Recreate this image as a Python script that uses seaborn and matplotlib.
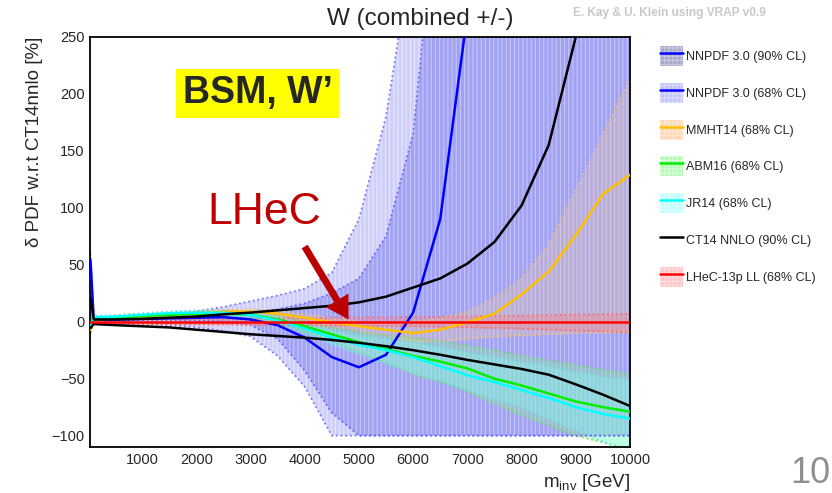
import numpy as np
import pandas as pd
import matplotlib
matplotlib.use("Agg")
import matplotlib.pyplot as plt
from matplotlib.patches import Patch
from matplotlib.lines import Line2D
from matplotlib.ticker import MultipleLocator
import seaborn as sns

# ---------------- data ----------------
m_inv = [50, 110, 500, 1000, 1500, 2000, 2500, 3000, 3500, 4000, 4500, 5000,
         5500, 6000, 6500, 7000, 7500, 8000, 8500, 9000, 9500, 10000]

nnpdf_central = [54, 2, 2, 2.5, 3, 3.5, 4, 2, -3, -14, -31, -40,
                 -29, 8, 90, 270, 500, 700, 900, 1100, 1300, 1500]
nnpdf68_up = [56, 2.5, 3, 3.5, 4, 5, 6, 8, 11, 16, 25, 38,
              75, 165, 400, 800, 1200, 1600, 2000, 2400, 2800, 3200]
nnpdf68_lo = [-5, 1.5, 1.5, 1.5, 1.5, 1, 0, -3, -15, -43, -80, -100,
              -100, -100, -100, -100, -100, -100, -100, -100, -100, -100]
nnpdf90_up = [60, 3, 3.5, 4, 6, 9, 13, 18, 23, 29, 43, 90,
              180, 330, 600, 900, 1300, 1700, 2100, 2500, 2900, 3300]
nnpdf90_lo = [-10, 1, 0, -1, -3, -5, -8, -13, -30, -57, -100, -100,
              -100, -100, -100, -100, -100, -100, -100, -100, -100, -100]

ct14_up = [21, 2, 2, 2.5, 3.5, 4.5, 6.5, 8, 10, 12, 14, 17,
           22, 30, 38, 51, 70, 102, 155, 250, 400, 600]
ct14_lo = [-5.5, -2, -3, -4, -5, -7, -9, -11, -12.5, -14, -16, -18.5,
           -21.5, -25, -29, -33.5, -37.5, -41.5, -46.5, -55, -64, -74]

mmht_central = [-7, 2, 3, 4, 6, 8, 9, 9, 7, 3.5, -0.5, -4,
                -7, -10, -7, -0.5, 7, 24, 44, 76, 112, 129]
mmht_up = [-3, 3, 4, 5, 7, 9, 10.5, 11, 9.5, 6.5, 3, 0,
           -2, 0, 2.5, 9, 21, 38, 68, 115, 165, 212]
mmht_lo = [-10, 1, 2, 3, 5, 7, 7.5, 7, 4, 0, -4, -8,
           -12, -17, -17, -15, -13, -12, -11, -10, -9.5, -9]

abm_central = [-5, 2, 3, 5, 6, 7, 7.5, 6, 2, -4, -11, -18,
               -24, -30, -35, -41, -50, -56, -63, -70, -75, -79]
abm_up = [-3, 3, 4, 6, 7.5, 8.5, 9, 8, 5, 0, -5, -9,
          -12, -14, -17, -21, -25, -30, -34, -38, -42, -46]
abm_lo = [-8, 1, 2, 4, 4.5, 5.5, 6, 4, -1, -8, -17, -27,
          -36, -46, -53, -61, -72, -82, -91, -100, -106, -112]

jr_central = [-3, 4, 4.5, 6, 7.5, 8, 8, 6, 1, -6, -14, -20,
              -25, -31, -39, -47, -53, -60, -67, -75, -81, -85]
jr_up = [-1, 5, 6, 7.5, 9, 10, 10, 8, 4, -2, -8, -12,
         -15, -18, -22, -27, -31, -35, -39, -44, -48, -51]
jr_lo = [-6, 3, 3, 4.5, 6, 6, 6, 4, -2, -10, -20, -28,
         -37, -45, -52, -60, -68, -75, -85, -95, -105, -115]

lhec_central = [0] * 22
lhec_up = [2.5, 2.5, 2.5, 2.5, 2.5, 2.5, 2.5, 2.8, 3, 3.2, 3.5, 3.7,
           3.9, 4, 4.3, 4.6, 5, 5.4, 5.8, 6.2, 6.5, 6.8]
lhec_lo = [-2.5, -2.5, -2.5, -2.5, -2.5, -2.5, -2.5, -2.8, -3, -3.2, -3.5, -3.7,
           -3.9, -4, -4.5, -5, -5.5, -6, -7, -7.8, -8.5, -9.3]

legend_labels = ["NNPDF 3.0 (90% CL)", "NNPDF 3.0 (68% CL)", "MMHT14 (68% CL)",
                 "ABM16 (68% CL)", "JR14 (68% CL)", "CT14 NNLO (90% CL)",
                 "LHeC-13p LL (68% CL)"]
x_ticks = [1000, 2000, 3000, 4000, 5000, 6000, 7000, 8000, 9000, 10000]
y_ticks = [-100, -50, 0, 50, 100, 150, 200, 250]

# ---------------- style ----------------
sns.set_style("white")
plt.rcParams["font.family"] = ["Liberation Sans", "DejaVu Sans"]
plt.rcParams["mathtext.fontset"] = "custom"
plt.rcParams["mathtext.rm"] = "Liberation Sans"
plt.rcParams["mathtext.it"] = "Liberation Sans"
plt.rcParams["hatch.linewidth"] = 0.8

fig = plt.figure(figsize=(8.32, 4.93), dpi=100)
ax = fig.add_axes([0.1085, 0.0933, 0.6487, 0.8317])

m = np.array(m_inv, dtype=float)

# bands
ax.fill_between(m, nnpdf90_lo, nnpdf90_up, facecolor="#cfcff9",
                edgecolor="#e6e6ff", hatch="||||", linewidth=0, zorder=1)
ax.fill_between(m, nnpdf68_lo, nnpdf68_up, facecolor="#a2a2f3",
                edgecolor="#c4c4fa", hatch="||||", linewidth=0, zorder=1.1)
ax.fill_between(m, mmht_lo, mmht_up, facecolor="#f0c8a0", alpha=0.3,
                linewidth=0, zorder=1.2)
ax.fill_between(m, abm_lo, abm_up, facecolor="#80ff80", alpha=0.3,
                linewidth=0, zorder=1.3)
ax.fill_between(m, jr_lo, jr_up, facecolor="#80ffff", alpha=0.3,
                linewidth=0, zorder=1.4)
ax.fill_between(m, lhec_lo, lhec_up, facecolor="#ff8080", alpha=0.35,
                linewidth=0, zorder=1.5)

dot = (0, (1, 1.6))
for lo, up, c in [(nnpdf90_lo, nnpdf90_up, "#7878ff"),
                  (nnpdf68_lo, nnpdf68_up, "#6a6aff"),
                  (mmht_lo, mmht_up, "#f2c27a"),
                  (abm_lo, abm_up, "#70e070"),
                  (jr_lo, jr_up, "#70e0e0"),
                  (lhec_lo, lhec_up, "#ff6a6a")]:
    ax.plot(m, lo, ls=dot, color=c, lw=1.3, zorder=1.8)
    ax.plot(m, up, ls=dot, color=c, lw=1.3, zorder=1.8)

# central lines via seaborn
series = {
    "NNPDF": nnpdf_central,
    "MMHT": mmht_central,
    "ABM": abm_central,
    "JR": jr_central,
    "CT14 up": ct14_up,
    "CT14 lo": ct14_lo,
    "LHeC": lhec_central,
}
df = pd.concat([pd.DataFrame({"m": m_inv, "v": v, "pdf": k}) for k, v in series.items()],
               ignore_index=True)
palette = {"NNPDF": "#0000ff", "MMHT": "#ffc000", "ABM": "#00ee00", "JR": "#00ffff",
           "CT14 up": "#000000", "CT14 lo": "#000000", "LHeC": "#ff0000"}
sns.lineplot(data=df, x="m", y="v", hue="pdf", palette=palette, hue_order=list(series),
             estimator=None, sort=False, legend=False, linewidth=1.8, ax=ax, zorder=3)

# axes
ax.set_xlim(46, 10000)
ax.set_ylim(-110, 250)
ax.set_xticks(x_ticks)
ax.set_yticks(y_ticks)
ax.xaxis.set_minor_locator(MultipleLocator(200))
ax.yaxis.set_minor_locator(MultipleLocator(10))
ax.tick_params(axis="both", which="both", direction="in", top=False, right=False,
               labelsize=10.5, width=1.2, pad=4)
ax.tick_params(axis="y", which="major", length=14.4)
ax.tick_params(axis="y", which="minor", length=7.2)
ax.tick_params(axis="x", which="major", length=7.2)
ax.tick_params(axis="x", which="minor", length=3.6)
for s in ax.spines.values():
    s.set_linewidth(1.3)
    s.set_color("black")

ax.set_ylabel("δ PDF w.r.t CT14nnlo [%]", fontsize=13.5, loc="top")
ax.yaxis.set_label_coords(-0.087, 1.0)
ax.set_xlabel(r"m$_{\rm inv}$ [GeV]", fontsize=13.5, loc="right")
ax.xaxis.set_label_coords(1.0, -0.06)

# annotations
ax.text(0.31, 0.863, "BSM, W’", transform=ax.transAxes, fontsize=27, fontweight="bold",
        ha="center", va="center",
        bbox=dict(facecolor="#ffff00", edgecolor="none", boxstyle="square,pad=0.17"))
ax.text(0.322, 0.573, "LHeC", transform=ax.transAxes, fontsize=32, color="#c00000",
        ha="center", va="center")
ax.annotate("", xy=(4810, 2), xytext=(4000, 66),
            arrowprops=dict(facecolor="#bb0000", edgecolor="none", width=5,
                            headwidth=19, headlength=16), zorder=5)

fig.text(0.505, 0.962, "W (combined +/-)", fontsize=17.5, ha="center", va="center")
fig.text(0.805, 0.973, "E. Kay & U. Klein using VRAP v0.9", fontsize=8.6,
         fontweight="bold", color="#c8c8c8", ha="center", va="center")
fig.text(790 / 832, 0.004, "10", fontsize=26, color="#8f8f8f", ha="left", va="bottom")

# legend
handles = [
    (Patch(facecolor="#a8a8cc", edgecolor="#c8c8e0", hatch="++++", linewidth=0),
     Line2D([], [], color="#0000ff", lw=1.8)),
    (Patch(facecolor="#c4c4fa", edgecolor="#dcdcff", hatch="++++", linewidth=0),
     Line2D([], [], color="#0000ff", lw=1.8)),
    (Patch(facecolor="#ffd8b8", edgecolor="#ffe8d0", hatch="++++", linewidth=0),
     Line2D([], [], color="#ffc000", lw=1.8)),
    (Patch(facecolor="#b8f8b8", edgecolor="#d4ffd4", hatch="++++", linewidth=0),
     Line2D([], [], color="#00ee00", lw=1.8)),
    (Patch(facecolor="#c0ffff", edgecolor="#dcffff", hatch="++++", linewidth=0),
     Line2D([], [], color="#00ffff", lw=1.8)),
    Line2D([], [], color="black", lw=1.8),
    (Patch(facecolor="#ffc4c4", edgecolor="#ffdcdc", hatch="++++", linewidth=0),
     Line2D([], [], color="#ff0000", lw=1.8)),
]
fig.legend(handles, legend_labels, loc="upper left", bbox_to_anchor=(0.793, 0.906),
           frameon=False, fontsize=9, borderpad=0, borderaxespad=0,
           handlelength=1.84, handleheight=2.08, handletextpad=0.25, labelspacing=1.34)

fig.savefig("out.png", dpi=100)
